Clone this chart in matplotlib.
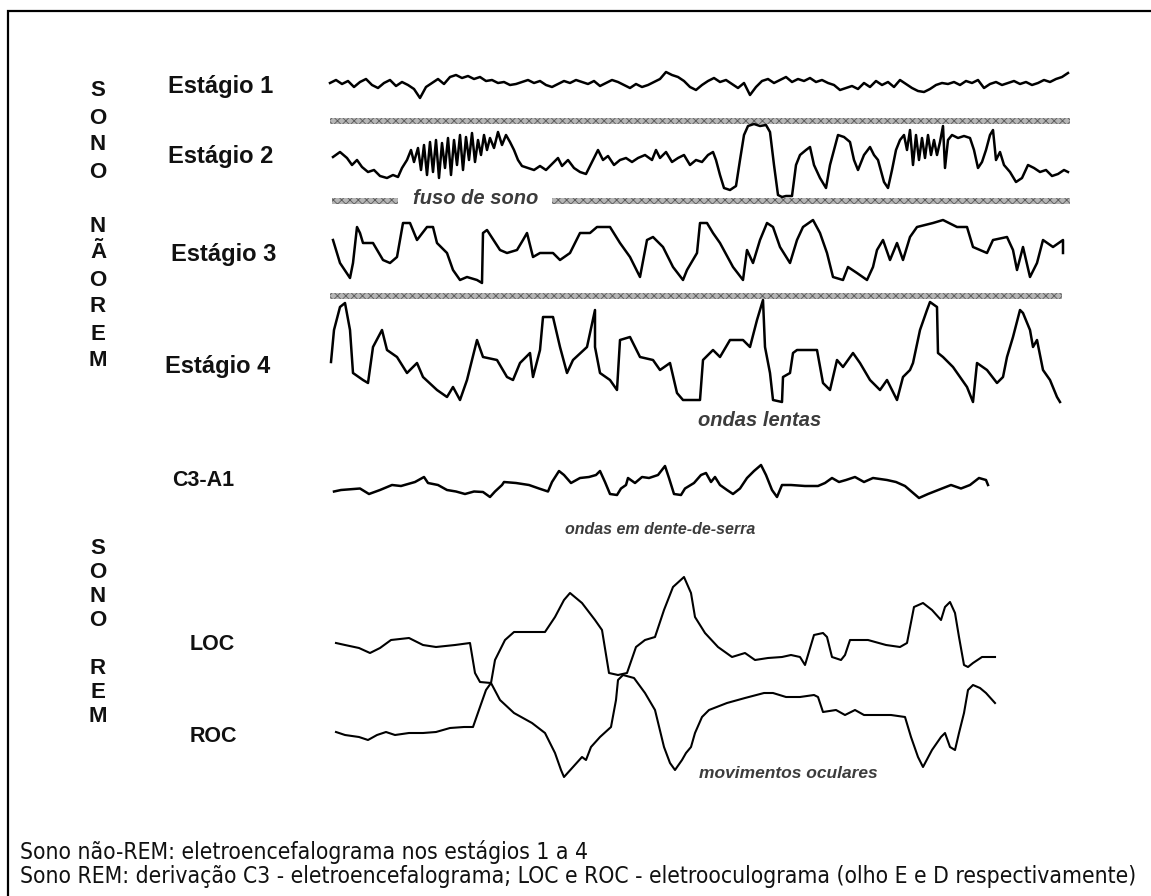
import numpy as np
import matplotlib
matplotlib.use("Agg")
import matplotlib.pyplot as plt
from matplotlib.patches import Rectangle

plt.rcParams['font.family'] = ['Liberation Sans', 'DejaVu Sans']
plt.rcParams['hatch.linewidth'] = 0.6

# ---- traces (time position, amplitude in px, positive = up) ----
est1_amp = [2, 5, 1, 4, -2, 3, 6, 0, -3, 2, 5, -1,
            3, 0, -4, -13, -2, 2, 6, 1, 8, 10,
            7, 9, 6, 8, 4, 5, 2, 3, 0, 1,
            3, 5, 2, 4, 0, -2, 1, 4, 2, 5,
            3, 1, 4, -1, 2, 5, 3, 0, -3, 1,
            -2, 0, 3, 6, 13, 10, 8, 4, -2, -5,
            0, 4, 7, 3, 5, 1, -3, 2, -10, -2,
            4, 6, 2, 5, 8, 3, 6, 4, 7, 3,
            5, 2, 0, -5, -3, -1, -4, 2, -2, 4,
            0, 3, -2, 5, 1, -3, -6, -7, -4, 0,
            2, 1, 3, 0, 4, 2, 5, -3, 1, 3,
            0, 2, 4, 1, 3, 0, 2, 5, 3, 6, 8, 12]

est2_t = [333, 340, 347, 352, 357, 362, 368, 374, 380, 387, 393, 398, 402, 407, 411, 414, 418, 421, 424, 427,
          430, 433, 436, 439, 442, 445, 448, 451, 454, 457, 460, 463, 466, 469, 472, 475, 478, 481, 484, 487,
          490, 494, 498, 502, 506, 510, 514, 518, 522, 528, 534, 540, 546, 552, 558, 562, 568, 574, 580, 586,
          590, 594, 598, 603, 608, 614, 620, 626, 632, 638, 645, 652, 656, 660, 666, 672, 678, 684, 690, 696,
          702, 708, 713, 716, 720, 724, 730, 736, 740, 744, 748, 754, 760, 766, 770, 774, 778, 782, 786, 792,
          796, 800, 806, 810, 814, 820, 826, 830, 834, 838, 844, 850, 854, 858, 864, 870, 874, 878, 884, 888,
          892, 896, 900, 904, 907, 910, 913, 916, 919, 922, 925, 928, 931, 934, 937, 940, 943, 945, 948, 952,
          958, 964, 970, 974, 978, 982, 986, 990, 993, 996, 1000, 1004, 1010, 1016, 1022, 1028, 1034, 1040, 1046, 1052,
          1058, 1064, 1068]
est2_amp = [3, 8, 2, -5, 0, -7, -12, -10, -16, -18, -15, -17, -8, 0, 10, -2, 12, -10, 15, -15,
            18, -12, 20, -18, 17, -8, 22, -15, 20, -5, 25, -10, 23, 0, 27, -2, 20, 5, 25, 10,
            22, 12, 28, 15, 25, 18, 10, 0, -6, -8, -10, -6, -10, -4, 2, -6, 0, -8, -12, -14,
            -6, 2, 10, 0, 4, -5, 0, 2, -2, 2, 5, 0, 10, 2, 8, -2, 2, 5, -5, 0,
            -2, 5, 8, 0, -15, -28, -30, -26, 0, 25, 34, 36, 34, 35, 28, -5, -35, -37, -36, -36,
            -5, 5, 10, 13, -5, -18, -28, -5, 10, 25, 23, 18, 0, -10, 5, 13, 5, 0, -22, -28,
            -10, 10, 20, 25, 10, 30, -5, 25, 0, 22, 2, 25, 5, 20, 5, 18, 34, -8, 20, 25,
            22, 24, 22, 10, -8, -2, 10, 25, 30, 0, 8, -5, -12, -22, -18, -5, -8, -12, -10, -16,
            -14, -10, -12]

est3_t = [333, 340, 350, 353, 357, 360, 363, 373, 383, 390, 397, 403, 410, 417, 427, 433, 437, 447, 453, 460,
          467, 477, 482, 483, 487, 500, 507, 517, 523, 527, 533, 540, 553, 560, 570, 580, 590, 597, 610, 620,
          630, 640, 647, 653, 663, 673, 683, 687, 697, 700, 707, 713, 720, 733, 743, 747, 753, 760, 767, 773,
          780, 790, 797, 803, 813, 820, 827, 833, 843, 848, 857, 867, 873, 877, 883, 890, 897, 903, 910, 917,
          933, 943, 957, 967, 973, 987, 993, 1007, 1013, 1017, 1023, 1030, 1037, 1043, 1053, 1063, 1063]
est3_amp = [10, -13, -28, -13, 23, 17, 7, 7, -10, -13, -7, 27, 27, 10, 23, 23, 7, -3, -20, -30,
            -27, -30, -33, 17, 20, 0, -3, 0, 10, 17, -7, -3, -3, -10, -3, 17, 17, 23, 23, 7,
            -7, -27, 10, 13, 3, -17, -30, -20, -3, 27, 27, 17, 7, -17, -30, 0, -13, 10, 27, 23,
            3, -13, 10, 23, 30, 17, -3, -27, -30, -17, -23, -30, -17, 0, 10, -10, 7, -10, 13, 23,
            27, 30, 23, 23, 3, -3, 10, 13, 0, -20, 3, -27, -13, 10, 3, 10, -3]

est4_t = [331, 334, 340, 345, 350, 353, 363, 368, 373, 382, 387, 397, 407, 417, 423, 437, 447, 453, 460, 467,
          477, 483, 497, 507, 513, 520, 530, 533, 540, 543, 553, 560, 567, 573, 587, 595, 595, 600, 610, 617,
          620, 630, 640, 653, 660, 670, 677, 683, 700, 703, 713, 720, 730, 743, 750, 757, 763, 765, 770, 773,
          782, 783, 790, 793, 797, 817, 823, 830, 837, 843, 853, 860, 870, 880, 887, 897, 903, 910, 913, 920,
          927, 930, 937, 938, 943, 953, 967, 973, 977, 987, 997, 1003, 1007, 1013, 1020, 1023, 1030, 1033, 1037, 1043,
          1050, 1057, 1060]
est4_amp = [-12, 20, 43, 47, 20, -23, -30, -33, 3, 20, 0, -7, -23, -13, -27, -40, -47, -37, -50, -30,
            10, -7, -10, -27, -30, -13, -3, -27, 0, 33, 33, 3, -23, -10, 3, 40, 3, -23, -30, -40,
            10, 13, -7, -10, -20, -13, -43, -50, -50, -10, 0, -7, 10, 10, 3, 30, 50, 3, -23, -50,
            -52, -27, -23, -3, 0, 0, -33, -40, -10, -17, -3, -13, -30, -40, -30, -50, -27, -20, -13, 20,
            40, 48, 43, -3, -7, -17, -37, -52, -13, -20, -33, -27, -7, 13, 40, 37, 20, 3, 10, -20,
            -30, -47, -52]

c3_t = [334, 341, 360, 369, 380, 392, 401, 415, 424, 428, 438, 447, 456, 465, 474, 483, 490, 495, 502, 504,
        516, 529, 539, 548, 552, 559, 564, 571, 580, 589, 596, 600, 605, 610, 617, 621, 626, 628, 635, 642,
        649, 658, 665, 669, 674, 681, 685, 694, 701, 706, 711, 715, 720, 727, 733, 740, 747, 754, 761, 766,
        772, 777, 782, 791, 805, 818, 825, 832, 839, 846, 855, 864, 873, 887, 896, 905, 919, 928, 942, 951,
        961, 970, 979, 986, 988]
c3_amp = [-1.5, 0, 1.5, -4, 0, 5, 4, 8, 13, 7, 5, 0, -1.5, -4, -1.5, -2, -7, -1.5, 5, 8,
          7, 5, 1.5, -1.5, 8, 19, 15, 7, 12, 13, 15, 19, 8, -4, -5, 1.5, 5, 12, 7, 13,
          12, 15, 24, 12, -4, -5, 1.5, 7, 15, 17, 8, 13, 5, 0, -4, 1.5, 12, 19, 25, 15,
          0, -7, 5, 5, 4, 4, 7, 12, 8, 10, 13, 8, 12, 10, 8, 4, -8, -4, 1.5, 5,
          1.5, 5, 12, 10, 5]

loc_t = [336, 345, 359, 370, 380, 391, 409, 423, 436, 455, 470, 475, 480, 491, 495, 505, 514, 527, 545, 555,
         564, 570, 582, 595, 602, 609, 618, 627, 636, 645, 655, 664, 673, 684, 691, 695, 705, 718, 732, 745,
         755, 768, 782, 791, 800, 805, 814, 823, 827, 832, 841, 845, 850, 868, 886, 900, 907, 914, 923, 932,
         941, 945, 950, 955, 959, 964, 968, 973, 982, 995]
loc_amp = [2, 0, -3, -8, -3, 5, 7, 0, -2, 0, 2, -28, -37, -38, -15, 5, 13, 13, 13, 28,
           45, 52, 42, 25, 15, -28, -30, -28, -2, 5, 8, 35, 58, 68, 52, 28, 12, -2, -12, -8,
           -15, -13, -12, -10, -12, -20, 10, 12, 8, -12, -15, -10, 5, 5, 0, -2, 2, 38, 42, 35,
           25, 38, 43, 32, 8, -20, -22, -18, -12, -12]

roc_t = [336, 345, 359, 368, 377, 386, 395, 409, 423, 436, 450, 464, 473, 480, 486, 491, 500, 514, 532, 545,
         555, 561, 564, 573, 582, 586, 591, 600, 611, 616, 618, 623, 634, 645, 655, 664, 670, 675, 682, 686,
         691, 695, 702, 709, 727, 745, 764, 773, 786, 800, 814, 818, 823, 836, 845, 855, 864, 877, 891, 905,
         911, 918, 923, 932, 941, 945, 950, 955, 959, 964, 968, 973, 980, 986, 995]
roc_amp = [1, -2, -4, -7, -2, 1, -2, 0, 0, 1, 5, 6, 6, 26, 43, 50, 33, 20, 10, 0,
           -20, -37, -44, -34, -24, -27, -14, -4, 6, 33, 53, 58, 55, 40, 23, -14, -30, -37, -27, -20,
           -14, 0, 16, 23, 30, 35, 40, 40, 36, 36, 38, 36, 21, 23, 18, 23, 18, 18, 18, 16,
           -4, -24, -34, -17, -4, 0, -14, -17, 0, 20, 43, 48, 45, 40, 30]

# ---- labels ----
estagios = ["Estágio 1", "Estágio 2", "Estágio 3", "Estágio 4"]
rem_labels = ["C3-A1", "LOC", "ROC"]
nrem_letters = list("SONO") + [""] + list("NÃOREM")
rem_letters = list("SONO") + [""] + list("REM")
notes = ["fuso de sono", "ondas lentas", "ondas em dente-de-serra", "movimentos oculares"]
legenda = ["Sono não-REM: eletroencefalograma nos estágios 1 a 4",
           "Sono REM: derivação C3 - eletroencefalograma; LOC e ROC - eletrooculograma (olho E e D respectivamente)"]

fig = plt.figure(figsize=(11.51, 8.96), dpi=100)
ax = fig.add_axes([0, 0, 1, 1])
ax.set_xlim(0, 1151)
ax.set_ylim(896, 0)
ax.axis('off')

# frame (top and left edges only visible)
ax.plot([8, 8, 1151], [896, 11, 11], color='black', lw=1.6, solid_joinstyle='miter')

lw = 1.8
t1 = np.linspace(330, 1068, len(est1_amp))
ax.plot(t1, 85 - np.array(est1_amp), color='black', lw=lw)
ax.plot(est2_t, 160 - np.array(est2_amp), color='black', lw=lw)
ax.plot(est3_t, 250 - np.array(est3_amp), color='black', lw=lw)
ax.plot(est4_t, 350 - np.array(est4_amp), color='black', lw=lw)
ax.plot(c3_t, 490 - np.array(c3_amp), color='black', lw=lw)
ax.plot(loc_t, 645 - np.array(loc_amp), color='black', lw=1.5)
ax.plot(roc_t, 733 - np.array(roc_amp), color='black', lw=1.5)

# gray separator bands
bands = [(330, 1070, 121), (332, 398, 201), (552, 1070, 201), (330, 1062, 296)]
for x0, x1, yc in bands:
    ax.add_patch(Rectangle((x0, yc - 3), x1 - x0, 6, facecolor='#b5b5b5',
                           edgecolor='#5a5a5a', hatch='xxxx', lw=0))

# stage labels
est_pos = [(168, 86), (168, 157), (171, 254), (165, 366)]
for lab, (x, y) in zip(estagios, est_pos):
    ax.text(x, y, lab, fontsize=17, fontweight='bold', ha='left', va='center', color='#111111')

rem_pos = [(172, 480), (190, 645), (190, 736)]
for lab, (x, y) in zip(rem_labels, rem_pos):
    ax.text(x, y, lab, fontsize=15.5, fontweight='bold', ha='left', va='center', color='#111111')

# vertical letters
for i, ch in enumerate(nrem_letters):
    ax.text(98, 91 + i * 27, ch, fontsize=16, fontweight='bold', ha='center', va='center', color='#111111')
for i, ch in enumerate(rem_letters):
    ax.text(98, 548 + i * 24, ch, fontsize=16, fontweight='bold', ha='center', va='center', color='#111111')

# italic annotations
note_pos = [(476, 199, 14.5), (760, 421, 14.5), (660, 530, 11.5), (788, 773, 12.5)]
for txt, (x, y, fs) in zip(notes, note_pos):
    ax.text(x, y, txt, fontsize=fs, fontstyle='italic', fontweight='bold', ha='center', va='center',
            color='#3c3c3c')

# legend lines at bottom, fitted to the reference width
leg_texts = []
for i, txt in enumerate(legenda):
    leg_texts.append(ax.text(20, 852 + i * 24, txt, fontsize=14, ha='left', va='center', color='#111111',
                             family=['DejaVu Sans'], fontstretch='condensed'))
fig.canvas.draw()
w = leg_texts[1].get_window_extent(fig.canvas.get_renderer()).width
for t in leg_texts:
    t.set_fontsize(14 * 1123 / w)

fig.savefig('out.png', dpi=100)
